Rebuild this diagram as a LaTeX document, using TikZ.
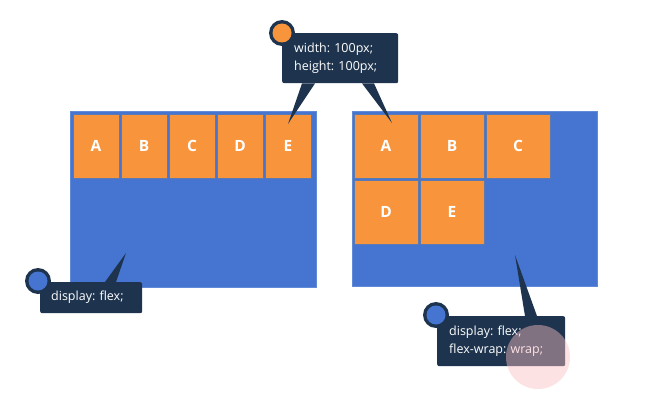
\documentclass[tikz,border=0pt]{standalone}
\usepackage{fontspec}
\setmainfont{Open Sans}
\usepackage{tikz}
\usetikzlibrary{positioning, calc}
\frenchspacing

\definecolor{flexblue}{RGB}{69,117,208}
\definecolor{itemorange}{RGB}{248,149,60}
\definecolor{navy}{RGB}{30,52,78}
\definecolor{edgeblue}{RGB}{92,122,178}
\definecolor{clickpink}{RGB}{250,190,195}

\begin{document}
\begin{tikzpicture}[
  x=1pt, y=-1pt,
  wrap/.style={fill=flexblue, draw=flexblue!85!white, line width=0.8pt},
  item/.style={fill=itemorange, draw=edgeblue, line width=0.8pt, text=white,
    font=\bfseries\fontsize{15.5}{15.5}\selectfont, inner sep=0pt},
  narrow/.style={item, minimum width=46pt, minimum height=64pt},
  square/.style={item, minimum width=64pt, minimum height=64pt},
  tip/.style={rectangle, rounded corners=2pt, fill=navy, text=white, anchor=north west,
    align=left, inner ysep=0pt, font=\fontsize{12.5}{18}\selectfont},
  dot/.style={circle, fill=navy, minimum size=26pt, inner sep=0pt}
  ]
  \useasboundingbox (0,0) rectangle (645,404);

  % containers
  \node[wrap, rectangle, minimum width=246pt, minimum height=176pt, anchor=north west] (row) at (70,111) {};
  \node[wrap, rectangle, minimum width=245pt, minimum height=175pt, anchor=north west] (grid) at (352,111) {};

  % display: flex
  \node[narrow] (a1) at (96,146) {A};
  \node[narrow] (b1) at (144,146) {B};
  \node[narrow] (c1) at (192,146) {C};
  \node[narrow] (d1) at (240,146) {D};
  \node[narrow] (e1) at (288,146) {E};

  % flex-wrap: wrap
  \node[square] (a2) at (386,146) {A};
  \node[square] (b2) at (452,146) {B};
  \node[square] (c2) at (518,146) {C};
  \node[square] (d2) at (386,212) {D};
  \node[square] (e2) at (452,212) {E};

  % callouts
  \node[tip, minimum width=116pt, minimum height=50pt, text width=92pt, inner xsep=12pt] (size) at (282,33)
    {width: 100px;\\height: 100px;};
  \node[tip, minimum width=102pt, minimum height=31pt, text width=80pt, inner xsep=11pt] (flex) at (40,282)
    {display: flex;};
  \node[tip, minimum width=128pt, minimum height=50pt, text width=104pt, inner xsep=12pt] (wrapnote) at (437,316)
    {display: flex;\\flex-wrap: wrap;};

  \coordinate (tipE) at (288,124);
  \coordinate (tipA) at (392,123);
  \coordinate (tipRow) at (126,253);
  \coordinate (tipGrid) at (515,255);
  \fill[navy] ($(size.south west)+(20,0)$) -- (tipE) -- ($(size.south west)+(33,0)$) -- cycle;
  \fill[navy] ($(size.south west)+(80,0)$) -- (tipA) -- ($(size.south west)+(92,0)$) -- cycle;
  \fill[navy] ($(flex.north west)+(65,0)$) -- (tipRow) -- ($(flex.north west)+(76,0)$) -- cycle;
  \fill[navy] ($(wrapnote.north west)+(88,0)$) -- (tipGrid) -- ($(wrapnote.north west)+(100,0)$) -- cycle;

  \node[dot] (sizedot) at (size.north west) {};
  \fill[itemorange] (sizedot) circle (9.5pt);
  \node[dot] (flexdot) at (38,281) {};
  \fill[flexblue] (flexdot) circle (9.5pt);
  \node[dot] (wrapdot) at (436,315) {};
  \fill[flexblue] (wrapdot) circle (9.5pt);

  % click mark
  \fill[clickpink, opacity=0.45] (538,357) circle (32pt);
\end{tikzpicture}
\end{document}
